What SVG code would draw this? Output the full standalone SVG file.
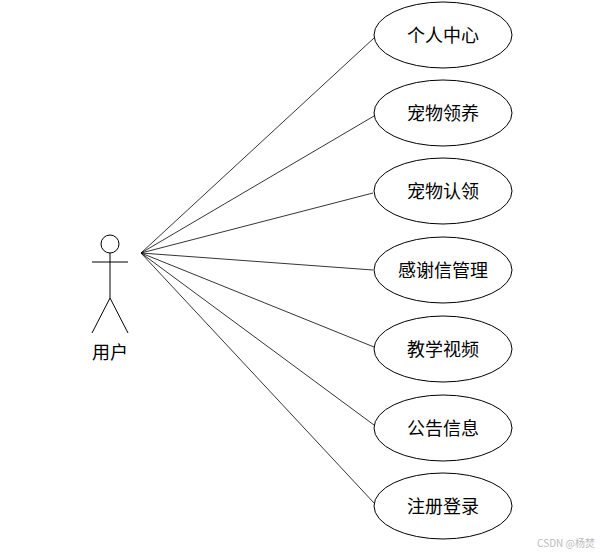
<svg xmlns="http://www.w3.org/2000/svg" width="600" height="553" viewBox="0 0 600 553">
<style>
ellipse{fill:#fff;stroke:#000;stroke-width:1}
.t{font-family:"Noto Sans CJK SC",sans-serif;font-size:18px;fill:#000;text-anchor:middle;dominant-baseline:central}
#edges line{stroke:#000;stroke-width:0.8}
</style>
<rect width="600" height="553" fill="#fff"/>
<g id="edges">
<line x1="141" y1="253" x2="374" y2="38"/>
<line x1="141" y1="253" x2="374" y2="116"/>
<line x1="141" y1="253" x2="373" y2="193"/>
<line x1="141" y1="253" x2="373" y2="270"/>
<line x1="141" y1="253" x2="374" y2="347"/>
<line x1="141" y1="253" x2="374" y2="425"/>
<line x1="141" y1="253" x2="374" y2="503"/>
</g>
<g id="actor" fill="none" stroke="#000" stroke-width="1">
<circle cx="110" cy="244" r="9"/>
<line x1="92" y1="262" x2="128" y2="262"/>
<line x1="110" y1="253" x2="110" y2="298"/>
<line x1="110" y1="298" x2="92" y2="333"/>
<line x1="110" y1="298" x2="128" y2="333"/>
<text class="t" x="110" y="351" stroke="none" fill="#000">用户</text>
</g>
<g id="uc1"><ellipse cx="443" cy="35" rx="69" ry="33"/><text class="t" x="443" y="34">个人中心</text></g>
<g id="uc2"><ellipse cx="443" cy="113" rx="69" ry="33"/><text class="t" x="443" y="112">宠物领养</text></g>
<g id="uc3"><ellipse cx="443" cy="191" rx="69" ry="33"/><text class="t" x="443" y="190">宠物认领</text></g>
<g id="uc4"><ellipse cx="443" cy="270" rx="69" ry="33"/><text class="t" x="443" y="269">感谢信管理</text></g>
<g id="uc5"><ellipse cx="443" cy="349" rx="69" ry="33"/><text class="t" x="443" y="348">教学视频</text></g>
<g id="uc6"><ellipse cx="443" cy="428" rx="69" ry="33"/><text class="t" x="443" y="427">公告信息</text></g>
<g id="uc7"><ellipse cx="443" cy="506" rx="69" ry="33"/><text class="t" x="443" y="505">注册登录</text></g>
<text x="595" y="542" font-family="Noto Sans CJK SC,sans-serif" font-size="10" fill="#bbb" text-anchor="end" dominant-baseline="central">CSDN @杨焚</text>
</svg>
